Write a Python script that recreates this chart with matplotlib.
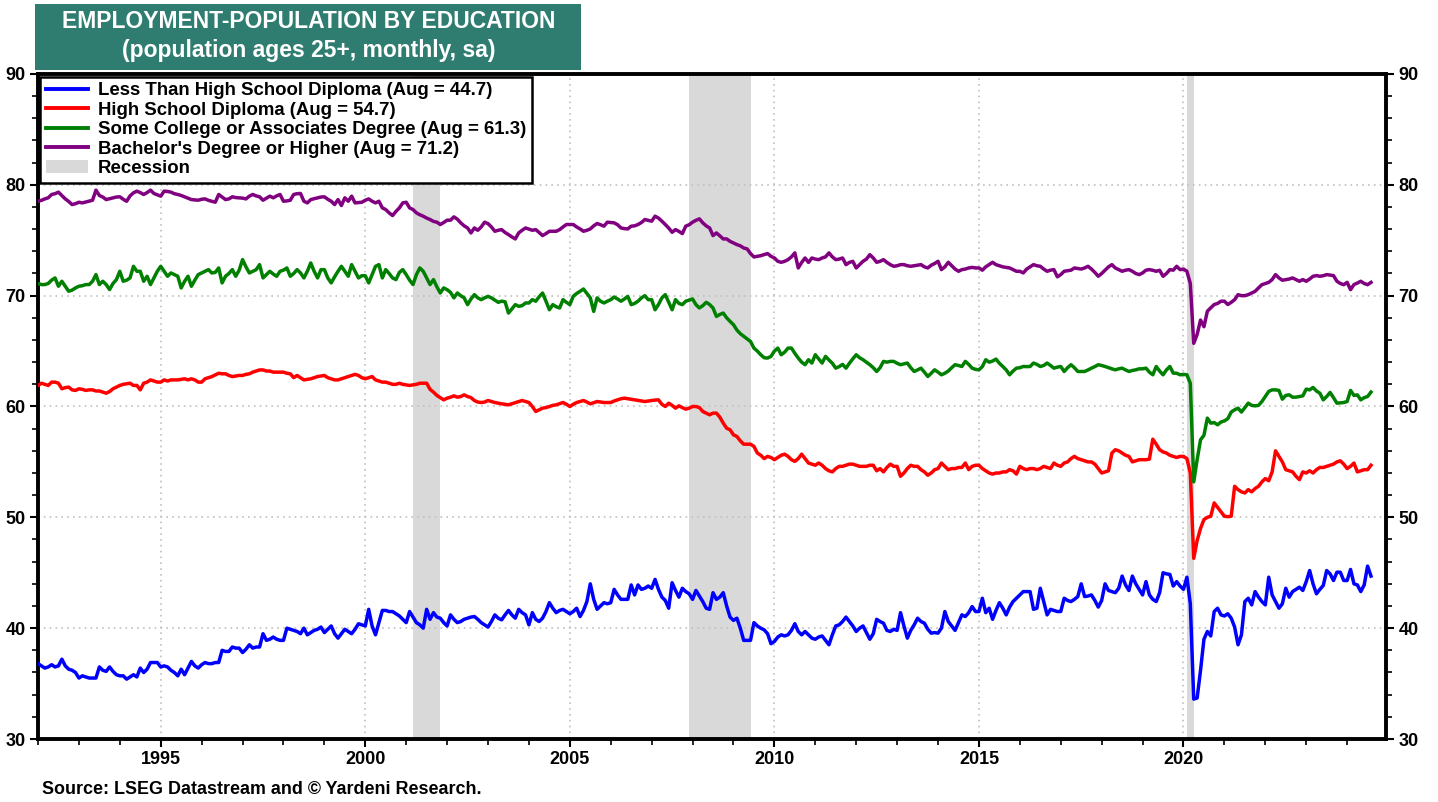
import numpy as np
import matplotlib
matplotlib.use("Agg")
import matplotlib.pyplot as plt
from matplotlib.patches import Patch, Rectangle
from matplotlib.lines import Line2D
from matplotlib.ticker import MultipleLocator

plt.rcParams['font.family'] = ['Liberation Sans', 'DejaVu Sans']
plt.rcParams['font.weight'] = 'bold'

# ------------------------------------------------------------
# data: monthly, Jan 1992 .. Aug 2024 (one row per year)
# ------------------------------------------------------------
START_YEAR = 1992

less_than_hs = [
    36.8, 36.6, 36.4, 36.5, 36.7, 36.5, 36.6, 37.2, 36.6, 36.3, 36.2, 36.0,  # 1992
    35.5, 35.7, 35.6, 35.5, 35.5, 35.5, 36.5, 36.2, 36.1, 36.5, 36.1, 35.8,  # 1993
    35.7, 35.7, 35.4, 35.6, 35.8, 35.6, 36.4, 36.0, 36.3, 36.9, 36.9, 36.9,  # 1994
    36.5, 36.6, 36.5, 36.2, 36.0, 35.7, 36.3, 35.8, 36.4, 37.0, 36.6, 36.4,  # 1995
    36.7, 36.9, 36.8, 36.8, 36.9, 36.9, 38.0, 37.9, 37.9, 38.3, 38.2, 38.2,  # 1996
    37.8, 38.1, 38.5, 38.2, 38.3, 38.3, 39.5, 38.9, 39.0, 39.2, 39.0, 38.9,  # 1997
    38.9, 40.0, 39.9, 39.8, 39.7, 39.5, 40.0, 39.4, 39.6, 39.8, 39.9, 40.1,  # 1998
    39.6, 39.9, 40.2, 39.5, 39.1, 39.5, 39.9, 39.7, 39.5, 39.9, 40.4, 40.3,  # 1999
    40.2, 41.7, 40.2, 39.4, 40.5, 41.6, 41.6, 41.5, 41.5, 41.3, 41.1, 40.8,  # 2000
    40.5, 41.5, 41.0, 40.5, 40.3, 40.0, 41.7, 40.8, 41.4, 41.0, 40.9, 40.5,  # 2001
    40.2, 41.2, 40.8, 40.5, 40.6, 40.8, 40.9, 41.0, 41.05, 40.8, 40.5, 40.3,  # 2002
    40.1, 40.6, 41.2, 40.9, 40.75, 41.2, 41.6, 41.2, 40.9, 41.7, 41.4, 41.2,  # 2003
    40.3, 41.4, 40.8, 40.6, 40.9, 41.5, 42.3, 41.8, 41.4, 41.6, 41.7, 41.5,  # 2004
    41.3, 41.5, 41.8, 41.05, 41.6, 42.4, 44.0, 42.6, 41.7, 42.0, 42.3, 42.2,  # 2005
    42.3, 43.5, 43.0, 42.6, 42.6, 42.6, 43.9, 43.0, 43.9, 43.5, 43.6, 43.8,  # 2006
    43.6, 44.4, 43.5, 42.8, 42.5, 41.8, 44.1, 43.4, 42.8, 43.6, 43.3, 43.1,  # 2007
    42.6, 43.4, 42.9, 42.4, 41.8, 41.7, 43.2, 42.6, 42.8, 43.2, 42.0, 41.0,  # 2008
    40.7, 40.9, 40.0, 38.9, 38.9, 38.9, 40.5, 40.2, 40.0, 39.85, 39.5, 38.6,  # 2009
    38.8, 39.2, 39.4, 39.3, 39.4, 39.8, 40.4, 39.7, 39.4, 39.7, 39.4, 39.1,  # 2010
    39.0, 39.2, 39.3, 38.9, 38.5, 39.4, 40.2, 40.3, 40.6, 41.0, 40.6, 40.2,  # 2011
    39.7, 40.0, 40.2, 39.6, 39.0, 39.5, 40.8, 40.6, 40.45, 39.8, 39.7, 39.9,  # 2012
    39.8, 41.4, 40.2, 39.1, 39.8, 40.3, 40.9, 40.6, 40.45, 39.9, 39.55, 39.6,  # 2013
    39.55, 40.0, 41.5, 40.6, 40.2, 39.8, 40.5, 41.2, 41.05, 41.4, 41.95, 41.5,  # 2014
    41.5, 42.7, 41.4, 41.8, 40.8, 41.6, 42.3, 41.8, 41.2, 41.9, 42.4, 42.7,  # 2015
    43.0, 43.3, 43.3, 43.3, 41.7, 41.8, 43.6, 42.4, 41.2, 41.7, 41.6, 41.5,  # 2016
    41.5, 42.7, 42.5, 42.4, 42.6, 42.85, 44.0, 42.85, 42.9, 43.0, 42.5, 41.9,  # 2017
    42.5, 44.0, 43.4, 43.3, 43.2, 43.6, 44.7, 43.9, 43.4, 44.7, 44.0, 43.5,  # 2018
    43.0, 44.2, 43.0, 42.6, 42.4, 43.2, 45.0, 44.9, 44.85, 43.8, 44.2, 43.8,  # 2019
    43.5, 44.6, 42.2, 33.6, 33.7, 36.2, 39.0, 39.7, 39.3, 41.5, 41.8, 41.2,  # 2020
    41.1, 41.3, 40.9, 40.1, 38.5, 39.4, 42.4, 42.7, 42.1, 43.3, 42.8, 42.4,  # 2021
    42.1, 44.6, 43.0, 42.4, 41.8, 42.2, 43.6, 42.8, 43.3, 43.5, 43.7, 43.4,  # 2022
    44.2, 45.2, 44.0, 43.1, 43.5, 43.85, 45.2, 44.9, 44.3, 45.05, 45.05, 44.3,  # 2023
    44.3, 45.3, 44.0, 43.9, 43.3, 43.9, 45.6, 44.7,  # 2024
]

high_school = [
    61.9, 62.1, 62.0, 61.9, 62.2, 62.2, 62.1, 61.6, 61.7, 61.75, 61.5, 61.45,  # 1992
    61.6, 61.55, 61.45, 61.5, 61.5, 61.4, 61.4, 61.3, 61.2, 61.35, 61.6, 61.75,  # 1993
    61.9, 62.0, 62.05, 62.1, 61.9, 61.9, 61.5, 62.1, 62.2, 62.4, 62.3, 62.2,  # 1994
    62.2, 62.4, 62.3, 62.4, 62.4, 62.4, 62.45, 62.5, 62.4, 62.5, 62.4, 62.2,  # 1995
    62.2, 62.5, 62.6, 62.7, 62.85, 63.0, 62.95, 62.95, 62.8, 62.7, 62.75, 62.8,  # 1996
    62.8, 62.9, 62.95, 63.1, 63.2, 63.3, 63.3, 63.2, 63.2, 63.1, 63.1, 63.1,  # 1997
    63.1, 63.0, 62.95, 62.6, 62.8, 62.6, 62.4, 62.45, 62.5, 62.6, 62.7, 62.75,  # 1998
    62.8, 62.6, 62.5, 62.4, 62.4, 62.5, 62.6, 62.7, 62.8, 62.9, 62.8, 62.6,  # 1999
    62.5, 62.6, 62.7, 62.4, 62.3, 62.2, 62.2, 62.1, 62.0, 62.0, 62.1, 62.0,  # 2000
    61.95, 61.9, 61.95, 62.0, 62.1, 62.1, 62.1, 61.55, 61.3, 61.0, 60.8, 60.6,  # 2001
    60.75, 60.84, 60.96, 60.84, 60.9, 61.05, 60.9, 60.8, 60.54, 60.4, 60.36, 60.4,  # 2002
    60.54, 60.45, 60.36, 60.3, 60.24, 60.2, 60.15, 60.25, 60.36, 60.45, 60.54, 60.45,  # 2003
    60.36, 60.0, 59.55, 59.7, 59.85, 59.9, 60.0, 60.1, 60.15, 60.25, 60.36, 60.2,  # 2004
    60.0, 60.2, 60.36, 60.45, 60.54, 60.4, 60.24, 60.35, 60.45, 60.4, 60.36, 60.36,  # 2005
    60.36, 60.5, 60.6, 60.7, 60.75, 60.7, 60.66, 60.6, 60.54, 60.5, 60.45, 60.5,  # 2006
    60.54, 60.58, 60.6, 60.2, 60.0, 60.3, 60.1, 59.85, 60.06, 59.9, 59.76, 59.85,  # 2007
    60.0, 60.0, 59.9, 59.55, 59.4, 59.25, 59.4, 59.4, 59.04, 58.5, 58.04, 57.9,  # 2008
    57.44, 57.3, 56.9, 56.6, 56.6, 56.6, 56.4, 55.8, 55.6, 55.3, 55.5, 55.4,  # 2009
    55.2, 55.4, 55.6, 55.7, 55.5, 55.2, 55.05, 55.3, 55.7, 55.3, 54.9, 54.8,  # 2010
    54.7, 54.9, 54.7, 54.4, 54.2, 54.1, 54.4, 54.6, 54.6, 54.7, 54.8, 54.8,  # 2011
    54.7, 54.6, 54.6, 54.6, 54.7, 54.7, 54.2, 54.4, 54.1, 54.5, 54.8, 54.6,  # 2012
    54.6, 53.7, 54.0, 54.4, 54.7, 54.6, 54.6, 54.3, 54.1, 53.8, 54.0, 54.3,  # 2013
    54.4, 54.9, 54.6, 54.3, 54.4, 54.4, 54.5, 54.5, 54.9, 54.3, 54.6, 54.7,  # 2014
    54.7, 54.4, 54.2, 54.0, 53.9, 54.0, 54.0, 54.1, 54.1, 54.3, 54.2, 53.9,  # 2015
    54.6, 54.4, 54.3, 54.4, 54.4, 54.3, 54.4, 54.6, 54.5, 54.4, 54.9, 54.7,  # 2016
    54.6, 54.9, 55.0, 55.3, 55.5, 55.3, 55.2, 55.1, 55.0, 55.0, 54.8, 54.4,  # 2017
    54.0, 54.1, 54.2, 55.8, 56.1, 56.0, 55.8, 55.6, 55.5, 55.0, 55.1, 55.2,  # 2018
    55.2, 55.2, 55.25, 57.05, 56.6, 56.1, 55.9, 55.8, 55.6, 55.5, 55.4, 55.5,  # 2019
    55.5, 55.3, 54.0, 46.3, 47.9, 49.0, 49.8, 50.0, 50.1, 51.3, 50.9, 50.5,  # 2020
    50.1, 50.06, 50.1, 52.8, 52.5, 52.3, 52.2, 52.5, 52.3, 52.6, 52.8, 53.2,  # 2021
    53.5, 53.3, 54.1, 56.0, 55.5, 55.0, 54.3, 54.2, 54.1, 53.7, 53.4, 54.1,  # 2022
    54.0, 54.2, 54.0, 54.3, 54.5, 54.5, 54.6, 54.7, 54.8, 55.0, 55.1, 54.8,  # 2023
    54.4, 54.6, 54.9, 54.1, 54.2, 54.3, 54.3, 54.7,  # 2024
]

some_college = [
    71.1, 71.0, 71.0, 71.1, 71.4, 71.6, 70.85, 71.3, 70.85, 70.4, 70.5, 70.7,  # 1992
    70.85, 70.9, 71.0, 71.0, 71.3, 71.9, 71.0, 71.3, 71.0, 70.55, 71.1, 71.45,  # 1993
    72.2, 71.3, 71.4, 71.6, 72.65, 72.2, 72.2, 71.3, 71.75, 71.0, 71.6, 72.2,  # 1994
    72.65, 72.2, 71.75, 72.05, 71.9, 71.75, 70.7, 71.3, 71.75, 70.85, 71.4, 71.9,  # 1995
    72.05, 72.2, 72.35, 72.05, 72.1, 72.5, 71.15, 71.75, 72.0, 72.35, 71.75, 72.3,  # 1996
    73.25, 72.6, 72.05, 72.2, 72.35, 72.8, 71.6, 71.9, 72.2, 71.95, 71.75, 72.2,  # 1997
    72.3, 72.5, 71.75, 72.0, 72.35, 72.05, 71.6, 72.2, 72.95, 72.2, 71.6, 72.35,  # 1998
    72.35, 71.6, 71.15, 71.7, 72.2, 72.65, 72.2, 71.75, 72.8, 72.2, 71.6, 71.8,  # 1999
    71.8, 71.15, 71.9, 72.65, 72.8, 71.6, 72.35, 72.0, 71.6, 71.45, 72.1, 72.35,  # 2000
    71.9, 71.4, 71.0, 71.9, 72.5, 72.2, 71.6, 71.0, 71.45, 70.8, 70.24, 70.7,  # 2001
    70.54, 70.3, 69.8, 70.24, 70.0, 69.8, 69.19, 69.7, 70.09, 69.8, 69.64, 69.8,  # 2002
    69.94, 69.8, 69.6, 69.4, 69.5, 69.45, 68.43, 68.8, 69.19, 69.04, 69.1, 69.34,  # 2003
    69.34, 69.64, 69.5, 69.9, 70.24, 69.5, 68.73, 69.19, 69.0, 68.89, 69.64, 69.4,  # 2004
    69.19, 69.94, 70.2, 70.39, 70.6, 70.2, 69.8, 68.58, 69.8, 69.5, 69.34, 69.5,  # 2005
    69.64, 69.88, 69.7, 69.5, 69.7, 69.94, 69.19, 69.3, 69.5, 69.8, 70.0, 69.64,  # 2006
    69.64, 68.73, 69.2, 69.8, 70.09, 69.4, 68.73, 69.64, 69.3, 69.19, 69.5, 69.6,  # 2007
    69.7, 69.19, 68.89, 69.1, 69.4, 69.2, 68.89, 68.13, 68.3, 68.43, 68.0, 67.68,  # 2008
    67.38, 66.9, 66.57, 66.33, 66.1, 65.87, 65.27, 65.0, 64.67, 64.4, 64.37, 64.52,  # 2009
    65.0, 65.27, 64.67, 64.9, 65.27, 65.27, 64.8, 64.37, 64.0, 63.77, 64.22, 63.92,  # 2010
    64.67, 64.3, 63.92, 64.52, 64.2, 63.9, 63.46, 63.6, 63.8, 63.46, 63.9, 64.3,  # 2011
    64.67, 64.4, 64.22, 64.0, 63.77, 63.5, 63.16, 63.5, 64.07, 64.0, 64.07, 64.07,  # 2012
    63.9, 63.77, 63.85, 63.92, 63.5, 63.16, 63.3, 63.46, 63.1, 62.71, 63.0, 63.31,  # 2013
    63.1, 62.86, 63.0, 63.2, 63.5, 63.77, 63.7, 63.61, 64.07, 63.8, 63.46, 63.35,  # 2014
    63.31, 63.6, 64.22, 64.0, 64.1, 64.28, 63.9, 63.61, 63.3, 62.86, 63.2, 63.46,  # 2015
    63.5, 63.61, 63.6, 63.61, 63.92, 63.8, 63.61, 63.7, 63.92, 63.7, 63.46, 63.55,  # 2016
    63.61, 63.16, 63.5, 63.77, 63.5, 63.16, 63.16, 63.16, 63.3, 63.46, 63.6, 63.77,  # 2017
    63.7, 63.61, 63.5, 63.4, 63.31, 63.4, 63.46, 63.3, 63.16, 63.25, 63.31, 63.4,  # 2018
    63.4, 63.46, 63.1, 62.86, 63.61, 63.2, 62.86, 63.3, 63.61, 63.01, 63.0, 62.86,  # 2019
    62.9, 62.86, 62.1, 53.2, 55.2, 57.0, 57.4, 58.95, 58.5, 58.55, 58.35, 58.6,  # 2020
    58.7, 58.9, 59.5, 59.7, 59.85, 59.5, 59.9, 60.3, 60.1, 60.06, 60.1, 60.45,  # 2021
    60.9, 61.36, 61.5, 61.5, 61.45, 60.66, 61.0, 61.05, 60.84, 60.84, 60.9, 60.96,  # 2022
    61.57, 61.5, 61.72, 61.4, 61.2, 60.6, 60.9, 61.27, 60.8, 60.3, 60.33, 60.36,  # 2023
    60.45, 61.45, 61.0, 61.05, 60.6, 60.8, 60.9, 61.3,  # 2024
]

bachelors = [
    78.52, 78.6, 78.73, 78.83, 79.13, 79.2, 79.34, 79.04, 78.73, 78.5, 78.22, 78.3,  # 1992
    78.43, 78.37, 78.45, 78.52, 78.61, 79.52, 79.04, 78.9, 78.67, 78.75, 78.83, 78.9,  # 1993
    78.92, 78.7, 78.52, 79.0, 79.28, 79.43, 79.3, 79.13, 79.3, 79.52, 79.22, 79.1,  # 1994
    78.98, 79.43, 79.4, 79.34, 79.2, 79.13, 79.04, 78.92, 78.8, 78.67, 78.64, 78.61,  # 1995
    78.7, 78.73, 78.6, 78.52, 78.43, 79.13, 78.9, 78.67, 78.73, 78.92, 78.85, 78.83,  # 1996
    78.8, 78.73, 78.98, 79.13, 79.0, 78.92, 78.61, 78.8, 78.98, 78.83, 79.0, 79.13,  # 1997
    78.52, 78.55, 78.61, 79.13, 79.2, 79.22, 78.52, 78.37, 78.67, 78.75, 78.83, 78.9,  # 1998
    78.92, 78.7, 78.52, 78.22, 78.67, 78.13, 78.83, 78.52, 78.98, 78.37, 78.4, 78.43,  # 1999
    78.61, 78.73, 78.52, 78.37, 78.52, 77.92, 77.77, 77.47, 77.23, 77.6, 77.92, 78.37,  # 2000
    78.43, 77.92, 77.77, 77.47, 77.3, 77.17, 77.0, 76.87, 76.7, 76.63, 76.42, 76.6,  # 2001
    76.81, 76.81, 77.11, 76.9, 76.57, 76.3, 76.11, 75.66, 76.11, 75.9, 76.2, 76.63,  # 2002
    76.5, 76.2, 75.81, 75.9, 75.96, 75.7, 75.51, 75.3, 75.12, 75.66, 75.9, 76.11,  # 2003
    76.0, 75.9, 75.96, 75.7, 75.42, 75.6, 75.81, 75.81, 75.81, 75.96, 76.2, 76.42,  # 2004
    76.42, 76.42, 76.2, 76.02, 75.81, 75.9, 76.02, 76.3, 76.51, 76.4, 76.27, 76.63,  # 2005
    76.6, 76.57, 76.4, 76.11, 76.05, 76.02, 76.27, 76.3, 76.42, 76.6, 76.87, 76.8,  # 2006
    76.72, 77.17, 77.0, 76.72, 76.42, 76.1, 75.72, 75.96, 75.8, 75.6, 76.27, 76.4,  # 2007
    76.63, 76.8, 76.93, 76.57, 76.3, 76.11, 75.42, 75.66, 75.4, 75.12, 75.12, 74.9,  # 2008
    74.76, 74.61, 74.5, 74.3, 74.22, 73.8, 73.49, 73.55, 73.61, 73.7, 73.8, 73.55,  # 2009
    73.4, 73.1, 73.01, 73.1, 73.25, 73.5, 73.86, 72.5, 73.0, 73.4, 73.0, 73.4,  # 2010
    73.3, 73.25, 73.4, 73.5, 73.86, 73.5, 73.25, 73.3, 73.4, 72.8, 73.0, 73.1,  # 2011
    72.5, 72.8, 73.1, 73.3, 73.7, 73.4, 73.01, 73.1, 73.25, 73.0, 72.8, 72.65,  # 2012
    72.7, 72.8, 72.8, 72.7, 72.65, 72.7, 72.75, 72.8, 72.6, 72.5, 72.75, 72.9,  # 2013
    73.1, 72.35, 72.6, 73.01, 72.7, 72.4, 72.2, 72.35, 72.4, 72.5, 72.55, 72.5,  # 2014
    72.5, 72.3, 72.6, 72.8, 73.01, 72.8, 72.7, 72.6, 72.55, 72.5, 72.35, 72.2,  # 2015
    72.2, 72.05, 72.4, 72.6, 72.8, 72.7, 72.65, 72.4, 72.2, 72.3, 72.35, 71.7,  # 2016
    71.9, 72.2, 72.25, 72.3, 72.5, 72.45, 72.4, 72.5, 72.65, 72.4, 72.1, 71.75,  # 2017
    72.0, 72.3, 72.6, 72.8, 72.5, 72.35, 72.2, 72.3, 72.35, 72.2, 72.0, 71.9,  # 2018
    72.05, 72.3, 72.35, 72.29, 72.2, 72.29, 71.75, 72.0, 72.35, 72.3, 72.65, 72.35,  # 2019
    72.4, 72.2, 71.1, 65.7, 66.5, 67.8, 67.2, 68.6, 68.9, 69.2, 69.3, 69.5,  # 2020
    69.5, 69.2, 69.4, 69.64, 70.09, 70.0, 70.0, 70.09, 70.24, 70.39, 70.7, 70.99,  # 2021
    71.1, 71.2, 71.45, 71.9, 71.6, 71.39, 71.45, 71.5, 71.6, 71.45, 71.3, 71.45,  # 2022
    71.3, 71.5, 71.75, 71.81, 71.75, 71.8, 71.9, 71.85, 71.81, 71.3, 71.1, 70.99,  # 2023
    71.2, 70.54, 71.0, 71.14, 71.3, 71.1, 70.99, 71.2,  # 2024
]

series_labels = [
    "Less Than High School Diploma (Aug = 44.7)",
    "High School Diploma (Aug = 54.7)",
    "Some College or Associates Degree (Aug = 61.3)",
    "Bachelor's Degree or Higher (Aug = 71.2)",
]
series_colors = ["#0000ff", "#ff0000", "#008000", "#800080"]

# recessions (start, end) in decimal years
recessions = [(2001.17, 2001.83), (2007.92, 2009.42), (2020.08, 2020.25)]

# ------------------------------------------------------------
# plot
# ------------------------------------------------------------
W, H = 1438, 802
fig = plt.figure(figsize=(W / 100, H / 100), dpi=100)
ax = fig.add_axes([38 / W, 1 - 739 / H, (1386 - 38) / W, (739 - 74) / H])

n = len(less_than_hs)
t = START_YEAR + np.arange(n) / 12.0

for s, e in recessions:
    ax.axvspan(s, e, color="#d9d9d9", lw=0, zorder=0)

all_series = [less_than_hs, high_school, some_college, bachelors]
for vals, col in zip(all_series, series_colors):
    ax.plot(t, vals, color=col, lw=2.5, zorder=3)

ax.set_xlim(1992.0, 2024.95)
ax.set_ylim(30, 90)
ax.set_xticks([1995, 2000, 2005, 2010, 2015, 2020])
ax.xaxis.set_minor_locator(MultipleLocator(1))
ax.yaxis.set_major_locator(MultipleLocator(10))
ax.yaxis.set_minor_locator(MultipleLocator(2))
ax.tick_params(axis="both", which="both", direction="out", color="black")
ax.tick_params(axis="both", which="major", length=6, width=1.5, labelsize=13, pad=3)
ax.tick_params(axis="both", which="minor", length=4, width=1.2)
ax.tick_params(axis="y", which="both", left=True, right=True, labelleft=True, labelright=True)
for lab in ax.get_xticklabels() + ax.get_yticklabels():
    lab.set_fontweight("bold")
ax.grid(True, which="major", color="#c0c0c0", linestyle=(0, (1, 2.5)), linewidth=1.2, zorder=1)
for sp in ax.spines.values():
    sp.set_linewidth(2.8)
    sp.set_color("black")

# legend
handles = [Line2D([0], [0], color=c, lw=2.8) for c in series_colors]
handles.append(Patch(facecolor="#d9d9d9", edgecolor="none"))
leg = ax.legend(handles, series_labels + ["Recession"], loc="upper left",
                bbox_to_anchor=(0.0015, 0.996), frameon=True,
                fancybox=False, handlelength=2.3, handletextpad=0.5,
                labelspacing=0.13, borderpad=0.3, borderaxespad=0.0,
                prop={"weight": "bold", "size": 13.4})
leg.get_frame().set_edgecolor("black")
leg.get_frame().set_linewidth(1.8)
leg.get_frame().set_alpha(1)
leg.set_zorder(5)

# title box
fig.patches.append(Rectangle((35 / W, 1 - 70 / H), (581 - 35) / W, 66 / H,
                             transform=fig.transFigure, facecolor="#2f7d70",
                             edgecolor="none", zorder=0))
fig.text(309 / W, 1 - 21 / H, "EMPLOYMENT-POPULATION BY EDUCATION", color="white",
         fontsize=16.5, fontweight="bold", ha="center", va="center")
fig.text(309 / W, 1 - 50 / H, "(population ages 25+, monthly, sa)", color="white",
         fontsize=16.5, fontweight="bold", ha="center", va="center")

fig.text(42 / W, 1 - 789 / H, "Source: LSEG Datastream and \u00a9 Yardeni Research.",
         fontsize=12.9, fontweight="bold", ha="left", va="center")

fig.savefig("out.png", dpi=100)
